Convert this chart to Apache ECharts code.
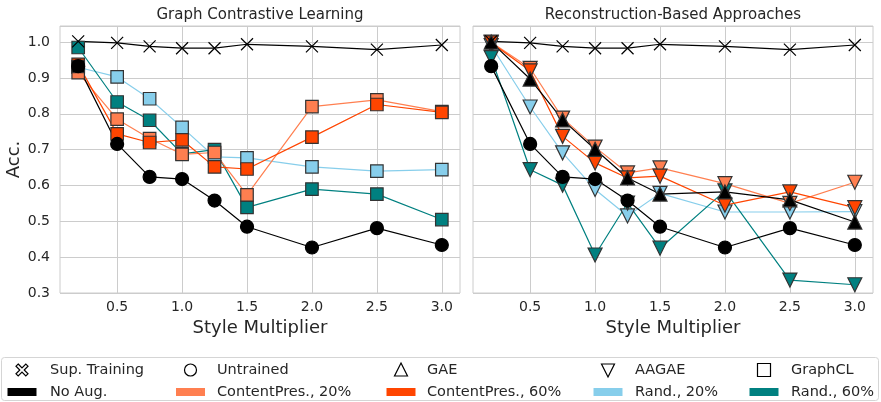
<!DOCTYPE html>
<html>
<head>
<meta charset="utf-8">
<script src="https://cdn.jsdelivr.net/npm/echarts@6/dist/echarts.min.js"></script>
<style>html,body{margin:0;padding:0;background:#fff;}#c{width:881px;height:402px;}</style>
</head>
<body>
<div id="c"></div>
<script>
// ---- data ----
const xVals = [0.2, 0.5, 0.75, 1.0, 1.25, 1.5, 2.0, 2.5, 3.0];
const xTicks = [0.5, 1.0, 1.5, 2.0, 2.5, 3.0];
const yTicks = [0.3, 0.4, 0.5, 0.6, 0.7, 0.8, 0.9, 1.0];
const panelTitles = ['Graph Contrastive Learning', 'Reconstruction-Based Approaches'];

const supTraining = [1.002, 0.998, 0.988, 0.983, 0.983, 0.994, 0.988, 0.979, 0.992];
const untrained   = [0.933, 0.716, 0.624, 0.618, 0.558, 0.485, 0.427, 0.481, 0.434];

// GraphCL (left panel)
const gclNoAugX = [0.2];
const gclNoAug  = [0.932];
const gclCP20 = [0.915, 0.785, 0.731, 0.687, 0.692, 0.574, 0.820, 0.839, 0.806];
const gclCP60 = [0.938, 0.744, 0.720, 0.727, 0.652, 0.646, 0.735, 0.826, 0.804];
const gclR20  = [0.930, 0.903, 0.842, 0.762, 0.680, 0.677, 0.652, 0.640, 0.644];
const gclR60  = [0.985, 0.833, 0.782, 0.688, 0.700, 0.539, 0.590, 0.576, 0.505];

// Reconstruction-based (right panel)
const gaeNoAug  = [1.000, 0.897, 0.783, 0.701, 0.621, 0.576, 0.582, 0.560, 0.498];
const aagaeCP20 = [1.000, 0.927, 0.788, 0.707, 0.635, 0.649, 0.605, 0.550, 0.609];
const aagaeCP60 = [0.998, 0.920, 0.737, 0.663, 0.621, 0.626, 0.545, 0.582, 0.538];
const aagaeR20  = [0.990, 0.819, 0.691, 0.589, 0.515, 0.578, 0.526, 0.526, 0.527];
const aagaeR60  = [0.957, 0.644, 0.601, 0.406, 0.551, 0.425, 0.585, 0.336, 0.323];

const legendRow1 = ['Sup. Training', 'Untrained', 'GAE', 'AAGAE', 'GraphCL'];
const legendRow2 = ['No Aug.', 'ContentPres., 20%', 'ContentPres., 60%', 'Rand., 20%', 'Rand., 60%'];

// ---- styles ----
const C = {noaug: '#000000', cp20: '#FF7F50', cp60: '#FF4500', r20: '#87CEEB', r60: '#008080'};
const TXT = '#262626';
const FONT = 'DejaVu Sans';
const xPath = 'path://M0 0L10 10M10 0L0 10';

function pairs(xs, ys) { return ys.map((v, i) => [xs[i], v]); }

function series(name, g, ys, color, kind, xs) {
  const s = {
    name: name, type: 'line', xAxisIndex: g, yAxisIndex: g,
    data: pairs(xs || xVals, ys), animation: false,
    lineStyle: {color: color, width: 1.2},
    itemStyle: {color: color, borderColor: '#333', borderWidth: 1.2},
    emphasis: {disabled: true}
  };
  if (kind === 'square') { s.symbol = 'rect'; s.symbolSize = 12.5; }
  else if (kind === 'circle') { s.symbol = 'circle'; s.symbolSize = 13; s.itemStyle.borderColor = '#000'; }
  else if (kind === 'up') { s.symbol = 'triangle'; s.symbolSize = 14; }
  else if (kind === 'down') { s.symbol = 'triangle'; s.symbolSize = 14; s.symbolRotate = 180; }
  else if (kind === 'x') {
    s.symbol = xPath; s.symbolSize = 12;
    s.itemStyle = {color: 'transparent', borderColor: '#000', borderWidth: 1.2};
  }
  return s;
}

const seriesList = [
  series('R20', 0, gclR20, C.r20, 'square'),
  series('R60', 0, gclR60, C.r60, 'square'),
  series('CP20', 0, gclCP20, C.cp20, 'square'),
  series('CP60', 0, gclCP60, C.cp60, 'square'),
  series('NoAug', 0, gclNoAug, C.noaug, 'square', gclNoAugX),
  series('Untrained', 0, untrained, '#000', 'circle'),
  series('Sup', 0, supTraining, '#000', 'x'),

  series('R20', 1, aagaeR20, C.r20, 'down'),
  series('R60', 1, aagaeR60, C.r60, 'down'),
  series('CP20', 1, aagaeCP20, C.cp20, 'down'),
  series('CP60', 1, aagaeCP60, C.cp60, 'down'),
  series('GAE', 1, gaeNoAug, C.noaug, 'up'),
  series('Untrained', 1, untrained, '#000', 'circle'),
  series('Sup', 1, supTraining, '#000', 'x')
];

const gridL = [60, 473];
const gridW = 400, gridTop = 26, gridH = 267;

function xAxis(i) {
  return {
    type: 'value', gridIndex: i, min: 0.06, max: 3.14,
    axisLine: {show: false}, axisTick: {show: false, customValues: xTicks},
    axisLabel: {customValues: xTicks, formatter: v => v.toFixed(1), color: TXT, fontSize: 14, fontFamily: FONT, margin: 7},
    splitLine: {show: true, lineStyle: {color: '#cccccc', width: 1}},
    name: 'Style Multiplier', nameLocation: 'middle', nameGap: 23,
    nameTextStyle: {color: TXT, fontSize: 18, fontFamily: FONT}
  };
}
function yAxis(i) {
  return {
    type: 'value', gridIndex: i, min: 0.3, max: 1.045, interval: 0.1,
    axisLine: {show: false}, axisTick: {show: false},
    axisLabel: {show: i === 0, showMaxLabel: false, formatter: v => v.toFixed(1), color: TXT, fontSize: 14, fontFamily: FONT, margin: 10},
    splitLine: {show: true, lineStyle: {color: '#cccccc', width: 1}},
    name: i === 0 ? 'Acc.' : '', nameLocation: 'middle', nameGap: 37,
    nameTextStyle: {color: TXT, fontSize: 18, fontFamily: FONT}
  };
}

// ---- legend (drawn as graphic elements) ----
const colX = [22, 190.5, 401, 608, 764];
const txtX = [50, 217, 427, 635, 791];
const row1Y = 370, row2Y = 392;
const patchColors = [C.noaug, C.cp20, C.cp60, C.r20, C.r60];
const LFONT = '14.5px "DejaVu Sans"';
const graphics = [];
graphics.push({type: 'rect', shape: {x: 1.5, y: 357.5, width: 877, height: 43, r: 3}, style: {fill: '#fff', stroke: '#d5d5d5', lineWidth: 1}, z: 0});
const ms = {fill: '#fff', stroke: '#000', lineWidth: 1.2};
(function () {
  const cx = colX[0], cy = row1Y, a = 6, w = 2.2;
  const pts = [[-a + w, -a], [0, -w], [a - w, -a], [a, -a + w], [w, 0], [a, a - w], [a - w, a], [0, w], [-a + w, a], [-a, a - w], [-w, 0], [-a, -a + w]];
  graphics.push({type: 'polygon', shape: {points: pts.map(p => [cx + p[0], cy + p[1]])}, style: ms, z: 5});
})();
graphics.push({type: 'circle', shape: {cx: colX[1], cy: row1Y, r: 6}, style: ms, z: 5});
graphics.push({type: 'polygon', shape: {points: [[colX[2], row1Y - 7], [colX[2] + 6.5, row1Y + 6], [colX[2] - 6.5, row1Y + 6]]}, style: ms, z: 5});
graphics.push({type: 'polygon', shape: {points: [[colX[3], row1Y + 7], [colX[3] + 6.5, row1Y - 6], [colX[3] - 6.5, row1Y - 6]]}, style: ms, z: 5});
graphics.push({type: 'rect', shape: {x: colX[4] - 6.5, y: row1Y - 6.5, width: 13, height: 13}, style: ms, z: 5});
legendRow1.forEach((t, i) => graphics.push({type: 'text', x: txtX[i], y: row1Y, style: {text: t, fill: TXT, font: LFONT, textVerticalAlign: 'middle', textAlign: 'left'}, z: 5}));
legendRow2.forEach((t, i) => {
  graphics.push({type: 'rect', shape: {x: colX[i] - 14.5, y: row2Y - 4, width: 29, height: 8}, style: {fill: patchColors[i]}, z: 5});
  graphics.push({type: 'text', x: txtX[i], y: row2Y, style: {text: t, fill: TXT, font: LFONT, textVerticalAlign: 'middle', textAlign: 'left'}, z: 5});
});
panelTitles.forEach((t, i) => graphics.push({type: 'text', x: gridL[i] + gridW / 2, y: 15, style: {text: t, fill: TXT, font: '15px "DejaVu Sans"', textVerticalAlign: 'middle', textAlign: 'center'}, z: 5}));

const chart = echarts.init(document.getElementById('c'), null, {renderer: 'canvas'});
chart.setOption({
  animation: false,
  backgroundColor: '#fff',
  textStyle: {fontFamily: FONT},
  grid: gridL.map(l => ({left: l, top: gridTop, width: gridW, height: gridH, show: true, borderColor: '#cccccc', borderWidth: 1, backgroundColor: 'transparent', containLabel: false})),
  xAxis: [xAxis(0), xAxis(1)],
  yAxis: [yAxis(0), yAxis(1)],
  series: seriesList,
  graphic: graphics
});
</script>
</body>
</html>
